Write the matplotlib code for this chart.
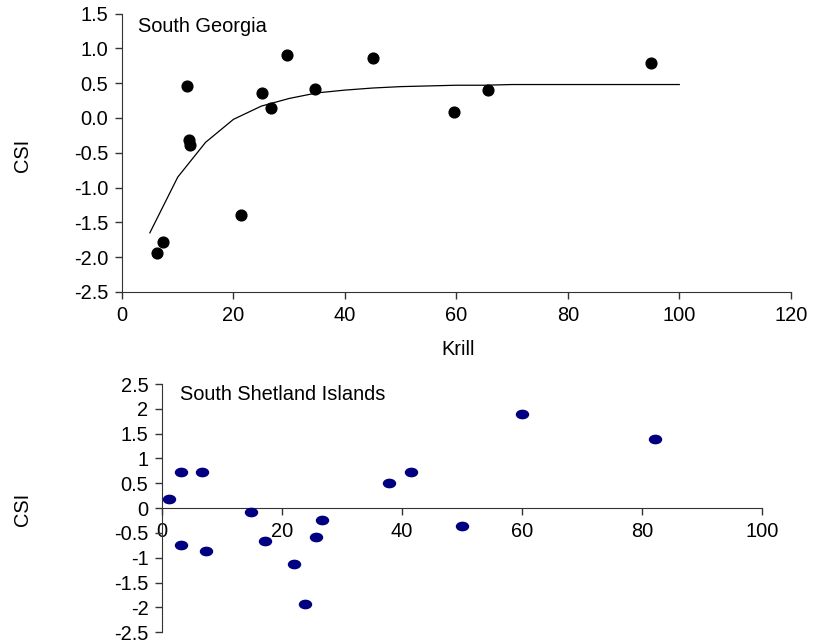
import matplotlib.pyplot as plt
from matplotlib.path import Path
from matplotlib.transforms import Affine2D

plt.rcParams['font.family'] = ['Liberation Sans', 'DejaVu Sans']
plt.rcParams['font.size'] = 14.4

# South Georgia: krill vs CSI
sg_krill = [6.2, 7.4, 11.7, 12.0, 12.2, 21.4, 25.2, 26.7, 29.6, 34.6, 45.1, 59.5, 65.7, 95.0]
sg_csi = [-1.94, -1.78, 0.46, -0.32, -0.39, -1.40, 0.36, 0.14, 0.91, 0.41, 0.86, 0.09, 0.40, 0.79]

# fitted curve
fit_krill = [5, 10, 15, 20, 25, 30, 35, 40, 45, 50, 55, 60, 65, 70, 75, 80, 85, 90, 95, 100]
fit_csi = [-1.65, -0.85, -0.35, -0.02, 0.17, 0.28, 0.36, 0.40, 0.43, 0.45, 0.46, 0.47,
           0.47, 0.48, 0.48, 0.48, 0.48, 0.48, 0.48, 0.48]

# South Shetland Islands
ssi_krill = [1.1, 3.05, 6.55, 3.2, 7.3, 14.8, 17.1, 22.0, 23.8, 25.7, 26.7, 37.8, 41.5, 50.0, 60.0, 82.2]
ssi_csi = [0.18, 0.73, 0.73, -0.74, -0.87, -0.08, -0.67, -1.12, -1.93, -0.59, -0.23, 0.51, 0.72, -0.36, 1.89, 1.39]

fig = plt.figure(figsize=(8.15, 6.44), dpi=100)

# --- top panel ---
ax1 = fig.add_axes([0.1497, 0.5466, 0.8205, 0.4324])
ax1.plot(fit_krill, fit_csi, color='black', lw=0.9)
ax1.scatter(sg_krill, sg_csi, s=60, color='black', zorder=3)
ax1.set_xlim(0, 120)
ax1.set_ylim(-2.5, 1.5)
ax1.set_xticks([0, 20, 40, 60, 80, 100, 120])
ax1.set_yticks([-2.5, -2.0, -1.5, -1.0, -0.5, 0.0, 0.5, 1.0, 1.5])
ax1.set_yticklabels(['%.1f' % v for v in ax1.get_yticks()])
ax1.spines['top'].set_visible(False)
ax1.spines['right'].set_visible(False)
ax1.set_xlabel('Krill')
ax1.set_ylabel('CSI')
ax1.xaxis.set_label_coords(0.5025, -0.172)
ax1.yaxis.set_label_coords(-0.135, 0.492)
ax1.text(0.0244, 0.955, 'South Georgia', transform=ax1.transAxes, va='center', ha='left')

# --- bottom panel ---
ellipse = Path.unit_circle().transformed(Affine2D().scale(1.45, 1.0))
ax2 = fig.add_axes([0.1991, 0.0182, 0.7355, 0.3855])
ax2.scatter(ssi_krill, ssi_csi, s=75, marker=ellipse, color='#000080', zorder=3)
ax2.set_xlim(0, 100)
ax2.set_ylim(-2.5, 2.5)
ax2.set_xticks([0, 20, 40, 60, 80, 100])
ax2.set_yticks([-2.5, -2, -1.5, -1, -0.5, 0, 0.5, 1, 1.5, 2, 2.5])
ax2.set_yticklabels(['%g' % v for v in ax2.get_yticks()])
ax2.spines['top'].set_visible(False)
ax2.spines['right'].set_visible(False)
ax2.spines['bottom'].set_position(('data', 0))
ax2.set_ylabel('CSI')
ax2.yaxis.set_label_coords(-0.218, 0.4966)
ax2.text(0.0295, 0.956, 'South Shetland Islands', transform=ax2.transAxes, va='center', ha='left')

for ax in (ax1, ax2):
    ax.tick_params(length=5, width=1, color='#333333', pad=5)
    for sp in ('left', 'bottom'):
        ax.spines[sp].set_color('#333333')

plt.savefig('out.png', dpi=100)
